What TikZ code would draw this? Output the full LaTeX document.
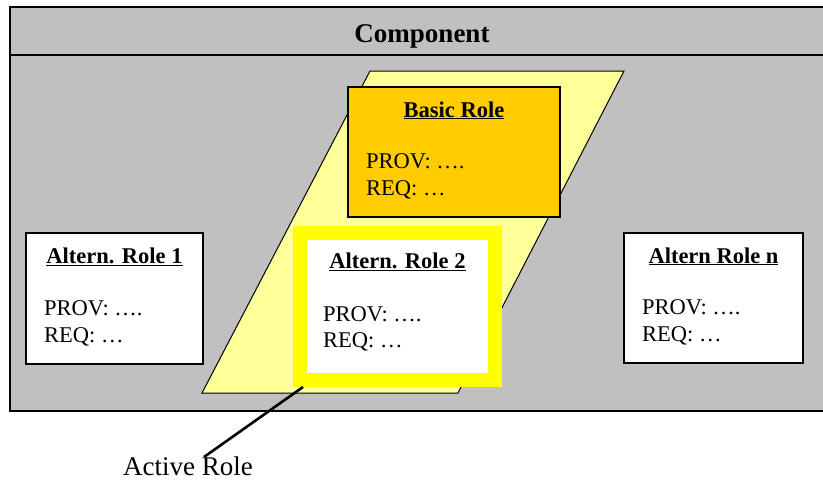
\documentclass[tikz,border=0pt]{standalone}
\usepackage{fontspec}
\setmainfont{Liberation Serif}
\usetikzlibrary{calc}
\definecolor{compgrey}{HTML}{C0C0C0}
\definecolor{basicfill}{HTML}{FFCC00}
\definecolor{paleyellow}{HTML}{FFFF99}
\definecolor{activeyellow}{HTML}{FFFF00}
\begin{document}
\begin{tikzpicture}[x=1pt,y=-1pt,
  rolebox/.style={draw=black, line width=1.3pt, fill=white, anchor=north west,
    inner sep=0pt, outer sep=0pt},
  roletitle/.style={anchor=base, inner sep=0pt,
    font=\fontsize{22.5}{27}\selectfont\bfseries},
  rolebody/.style={anchor=base west, inner sep=0pt,
    font=\fontsize{22.5}{27}\selectfont},
  bigtext/.style={inner sep=0pt, font=\fontsize{27}{32}\selectfont},
]
\useasboundingbox (0,0) rectangle (823,482);

% component frame with header band
\draw[line width=1.4pt, fill=compgrey] (10,7) rectangle (835,411);
\draw[line width=1.4pt] (10,55) -- (835,55);
\node[bigtext, anchor=base, font=\fontsize{27}{32}\selectfont\bfseries] (comp) at (422,42) {Component};

% role group (parallelogram)
\draw[line width=1pt, fill=paleyellow] (370,71) -- (624,71) -- (458,393) -- (202,393) -- cycle;

% basic role
\node[rolebox, fill=basicfill, minimum width=212pt, minimum height=130pt] (basic) at (348,87) {};
\node[roletitle] (basicT) at ($(basic.north)+(0,30)$) {\underline{Basic Role}};
\node[rolebody] (basicP) at ($(basic.north west)+(18,81)$) {PROV: \ldots.};
\node[rolebody] (basicR) at ($(basic.north west)+(18,108)$) {REQ: \ldots};

% alternative role 1
\node[rolebox, minimum width=177pt, minimum height=131pt] (alt1) at (26,233) {};
\node[roletitle] (alt1T) at ($(alt1.north)+(0,30)$) {\underline{Altern. Role 1}};
\node[rolebody] (alt1P) at ($(alt1.north west)+(18,82)$) {PROV: \ldots.};
\node[rolebody] (alt1R) at ($(alt1.north west)+(18,109)$) {REQ: \ldots};

% alternative role 2 (active, thick yellow frame)
\node[draw=activeyellow, line width=14pt, fill=white, inner sep=0pt, outer sep=0pt,
  minimum width=195pt, minimum height=147pt] (alt2) at (397.5,306.5) {};
\node[roletitle] (alt2T) at ($(alt2.north)+(0,35)$) {\underline{Altern. Role 2}};
\node[rolebody] (alt2P) at ($(alt2.north west)+(23,88)$) {PROV: \ldots.};
\node[rolebody] (alt2R) at ($(alt2.north west)+(23,114)$) {REQ: \ldots};

% alternative role n
\node[rolebox, minimum width=179pt, minimum height=130pt] (altn) at (624,233) {};
\node[roletitle] (altnT) at ($(altn.north)+(0,30)$) {\underline{Altern Role n}};
\node[rolebody] (altnP) at ($(altn.north west)+(18,81)$) {PROV: \ldots.};
\node[rolebody] (altnR) at ($(altn.north west)+(18,108)$) {REQ: \ldots};

% callout for the active role
\node[bigtext, anchor=base west] (active) at (123,475) {Active Role};
\coordinate (activeTip) at ($(active.base west)+(81,-18)$);
\draw[line width=2.6pt] ($(alt2.south west)+(3,7)$) -- (activeTip);
\end{tikzpicture}
\end{document}
